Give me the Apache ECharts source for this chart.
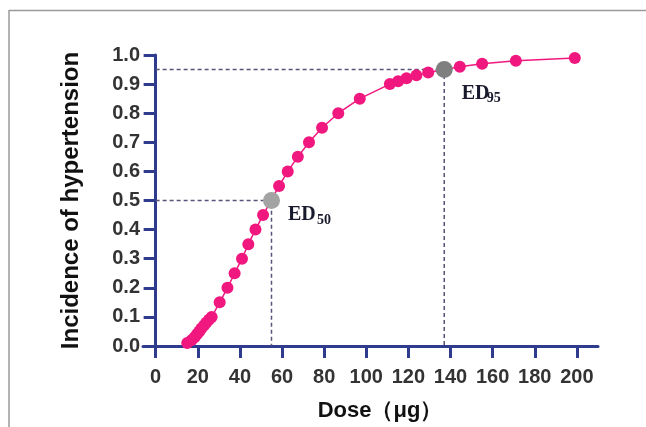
<!DOCTYPE html>
<html>
<head>
<meta charset="utf-8">
<script src="https://cdn.jsdelivr.net/npm/echarts@6.0.0/dist/echarts.min.js"></script>
<style>
html,body{margin:0;padding:0;background:#fff;}
#chart{width:646px;height:427px;}
</style>
</head>
<body>
<div id="chart"></div>
<script>
var dose = [15.0,17.0,18.5,19.6,20.7,21.7,22.9,24.0,25.3,26.6,
            30.4,34.1,37.5,41.0,44.0,47.4,51.0,
            58.6,62.7,67.5,72.8,79.0,86.7,
            96.9,111.2,115.1,119.1,123.8,129.4,
            144.4,155.0,171.0,199.0];
var incidence = [0.01,0.02,0.03,0.04,0.05,0.06,0.07,0.08,0.09,0.10,
                 0.15,0.20,0.25,0.30,0.35,0.40,0.45,
                 0.55,0.60,0.65,0.70,0.75,0.80,
                 0.85,0.90,0.91,0.92,0.93,0.94,
                 0.96,0.97,0.98,0.99];
// effective doses
var ed_main = ['ED','ED'];
var ed_sub = ['50','95'];
var ed_dose = [55, 137];
var ed_value = [0.5, 0.95];
var ed_colors = ['#a3a3a3','#7f7f7f'];
var x_ticks = [0,20,40,60,80,100,120,140,160,180,200];
var y_ticks = [0,0.1,0.2,0.3,0.4,0.5,0.6,0.7,0.8,0.9,1.0];

var axisColor = '#2f3b8c';
var pink = '#f0187f';
var labelColor = '#1a1a2e';

var points = [];
for (var i=0;i<dose.length;i++){
  points.push([dose[i], incidence[i]]);
}

var series = [];
for (var j=0;j<ed_dose.length;j++){
  series.push({
    type:'line',
    silent:true,
    symbol:'none',
    z:1,
    lineStyle:{color:'#55557a',width:1.5,type:[4,3]},
    data:[[0,ed_value[j]],[ed_dose[j],ed_value[j]],[ed_dose[j],0]]
  });
}
series.push({
  type:'line',
  name:'incidence',
  z:3,
  symbol:'circle',
  symbolSize:12,
  itemStyle:{color:pink},
  lineStyle:{color:pink,width:1.5},
  data:points
});

var main_offsets = [[3,14],[4,24]];
var sub_offsets = [[32,20],[29,29]];
var ed_points = [];
var ed_subs = [];
for (var k=0;k<ed_dose.length;k++){
  ed_points.push({
    name:ed_main[k],
    value:[ed_dose[k],ed_value[k]],
    itemStyle:{color:ed_colors[k],opacity:1},
    label:{offset:main_offsets[k]}
  });
  ed_subs.push({
    name:ed_sub[k],
    value:[ed_dose[k],ed_value[k]],
    label:{offset:sub_offsets[k]}
  });
}
series.push({
  type:'scatter',
  z:5,
  symbolSize:17,
  itemStyle:{opacity:1},
  data:ed_points,
  label:{
    show:true,
    position:'right',
    formatter:'{b}',
    opacity:1,
    fontFamily:'Liberation Serif',fontWeight:'bold',fontSize:20,color:labelColor
  }
});
series.push({
  type:'scatter',
  z:4,
  silent:true,
  symbolSize:17,
  itemStyle:{color:'transparent',opacity:1},
  data:ed_subs,
  label:{
    show:true,
    position:'right',
    formatter:'{b}',
    opacity:1,
    fontFamily:'Liberation Serif',fontWeight:'bold',fontSize:14,color:labelColor
  }
});

var myChart = echarts.init(document.getElementById('chart'));
option = {
  animation:false,
  backgroundColor:'#fff',
  graphic:[
    {type:'line',shape:{x1:9,y1:10.5,x2:646,y2:10.5},style:{stroke:'#9a9a9a',lineWidth:1.5}},
    {type:'line',shape:{x1:9,y1:10,x2:9,y2:427},style:{stroke:'#9a9a9a',lineWidth:1.5}}
  ],
  grid:{left:143,right:48,top:55,bottom:78},
  xAxis:{
    type:'value',
    min:-6,
    max:210,
    name:'Dose（μg）',
    nameLocation:'middle',
    nameGap:54,
    nameTextStyle:{fontFamily:'Liberation Sans',fontWeight:'bold',fontSize:22,color:'#111',padding:[0,0,0,19]},
    axisLine:{onZero:true,lineStyle:{color:axisColor,width:3}},
    axisTick:{show:true,length:12,customValues:x_ticks,lineStyle:{color:axisColor,width:3}},
    axisLabel:{customValues:x_ticks,margin:21,fontFamily:'Liberation Sans',fontWeight:'bold',fontSize:20,color:'#333'},
    splitLine:{show:false}
  },
  yAxis:{
    type:'value',
    min:0,
    max:1,
    name:'Incidence of hypertension',
    nameLocation:'middle',
    nameGap:60,
    nameTextStyle:{fontFamily:'Liberation Sans',fontWeight:'bold',fontSize:24,color:'#111'},
    axisLine:{show:true,onZero:true,lineStyle:{color:axisColor,width:3}},
    axisTick:{show:true,length:12,customValues:y_ticks,lineStyle:{color:axisColor,width:3}},
    axisLabel:{customValues:y_ticks,margin:3,fontFamily:'Liberation Sans',fontWeight:'bold',fontSize:20,color:'#333',
      formatter:function(v){ return v.toFixed(1); }},
    splitLine:{show:false}
  },
  series:series
};
myChart.setOption(option);
</script>
</body>
</html>
